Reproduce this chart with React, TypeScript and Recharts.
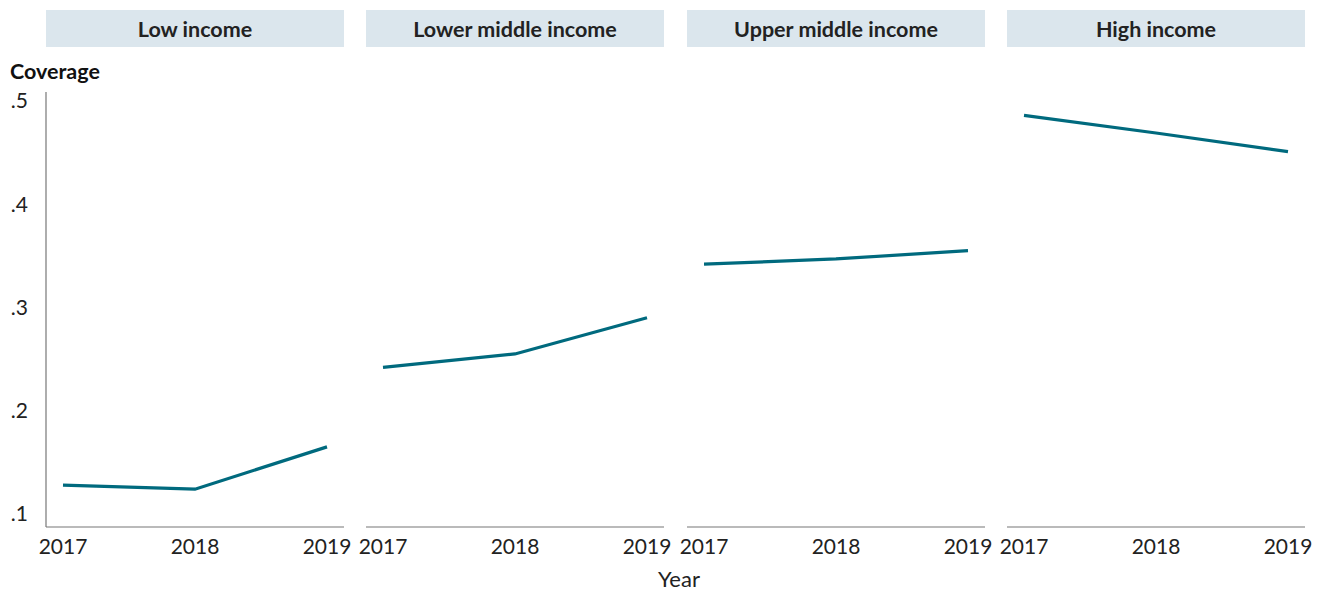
import React from 'react';
import { LineChart, Line, XAxis, YAxis } from 'recharts';

const years = ['2017', '2018', '2019'];
const groups = ['Low income', 'Lower middle income', 'Upper middle income', 'High income'];
const lowIncome = [0.128, 0.124, 0.165];
const lowerMiddle = [0.242, 0.255, 0.290];
const upperMiddle = [0.342, 0.347, 0.355];
const highIncome = [0.486, 0.469, 0.451];
const yTicks = [0.1, 0.2, 0.3, 0.4, 0.5];

const seriesList = [lowIncome, lowerMiddle, upperMiddle, highIncome];
const panelLefts = [46, 366, 687, 1007];
const panelWidth = 298;
const side = 30; // spare room so edge tick labels are not clipped
const font = 'Lato, "Open Sans", sans-serif';
const lineColor = '#006a7e';

const fmtY = (v: number) => v.toFixed(1).replace(/^0/, '');

const Panel: React.FC<{ idx: number }> = ({ idx }) => {
	const data = years.map((y, i) => ({ year: y, value: seriesList[idx][i] }));
	const first = idx === 0;
	const yw = first ? 46 : 0;
	const leftPad = first ? 0 : side;
	return (
		<div style={{ position: 'absolute', left: panelLefts[idx] - yw - leftPad, top: 0 }}>
			<LineChart
				width={panelWidth + yw + leftPad + side}
				height={591}
				data={data}
				margin={{ top: 92, right: side, bottom: 24, left: leftPad }}
			>
				<XAxis
					dataKey="year"
					padding={{ left: 17, right: 17 }}
					tickLine={false}
					tickSize={0}
					tickMargin={12}
					height={40}
					axisLine={{ stroke: '#777', strokeWidth: 1.2 }}
					tick={{ fill: '#222', fontSize: 21, fontFamily: font }}
					interval={0}
				/>
				<YAxis
					hide={!first}
					width={yw}
					domain={[0.0874, 0.5087]}
					ticks={yTicks}
					tickFormatter={fmtY}
					tickLine={false}
					tickSize={0}
					tickMargin={18}
					axisLine={{ stroke: '#777', strokeWidth: 1.2 }}
					tick={{ fill: '#222', fontSize: 21, fontFamily: font }}
				/>
				<Line
					type="linear"
					dataKey="value"
					stroke={lineColor}
					strokeWidth={3.2}
					dot={false}
					isAnimationActive={false}
				/>
			</LineChart>
		</div>
	);
};

export default function App() {
	return (
		<div style={{ position: 'absolute', left: 0, top: 0, width: 1321, height: 591, background: '#fff', fontFamily: font }}>
			{groups.map((g, i) => (
				<div
					key={g}
					style={{
						position: 'absolute',
						left: panelLefts[i],
						top: 10,
						width: panelWidth,
						height: 37,
						background: '#dbe6ed',
						color: '#222',
						fontWeight: 700,
						fontSize: 21.5,
						display: 'flex',
						alignItems: 'center',
						justifyContent: 'center',
					}}
				>
					{g}
				</div>
			))}
			{groups.map((g, i) => (
				<Panel key={g} idx={i} />
			))}
			<div style={{ position: 'absolute', left: 10, top: 58, fontWeight: 700, fontSize: 21.5, color: '#111' }}>
				Coverage
			</div>
			<div style={{ position: 'absolute', left: 0, width: 1358, top: 565, textAlign: 'center', fontSize: 22, color: '#222' }}>
				Year
			</div>
		</div>
	);
}
